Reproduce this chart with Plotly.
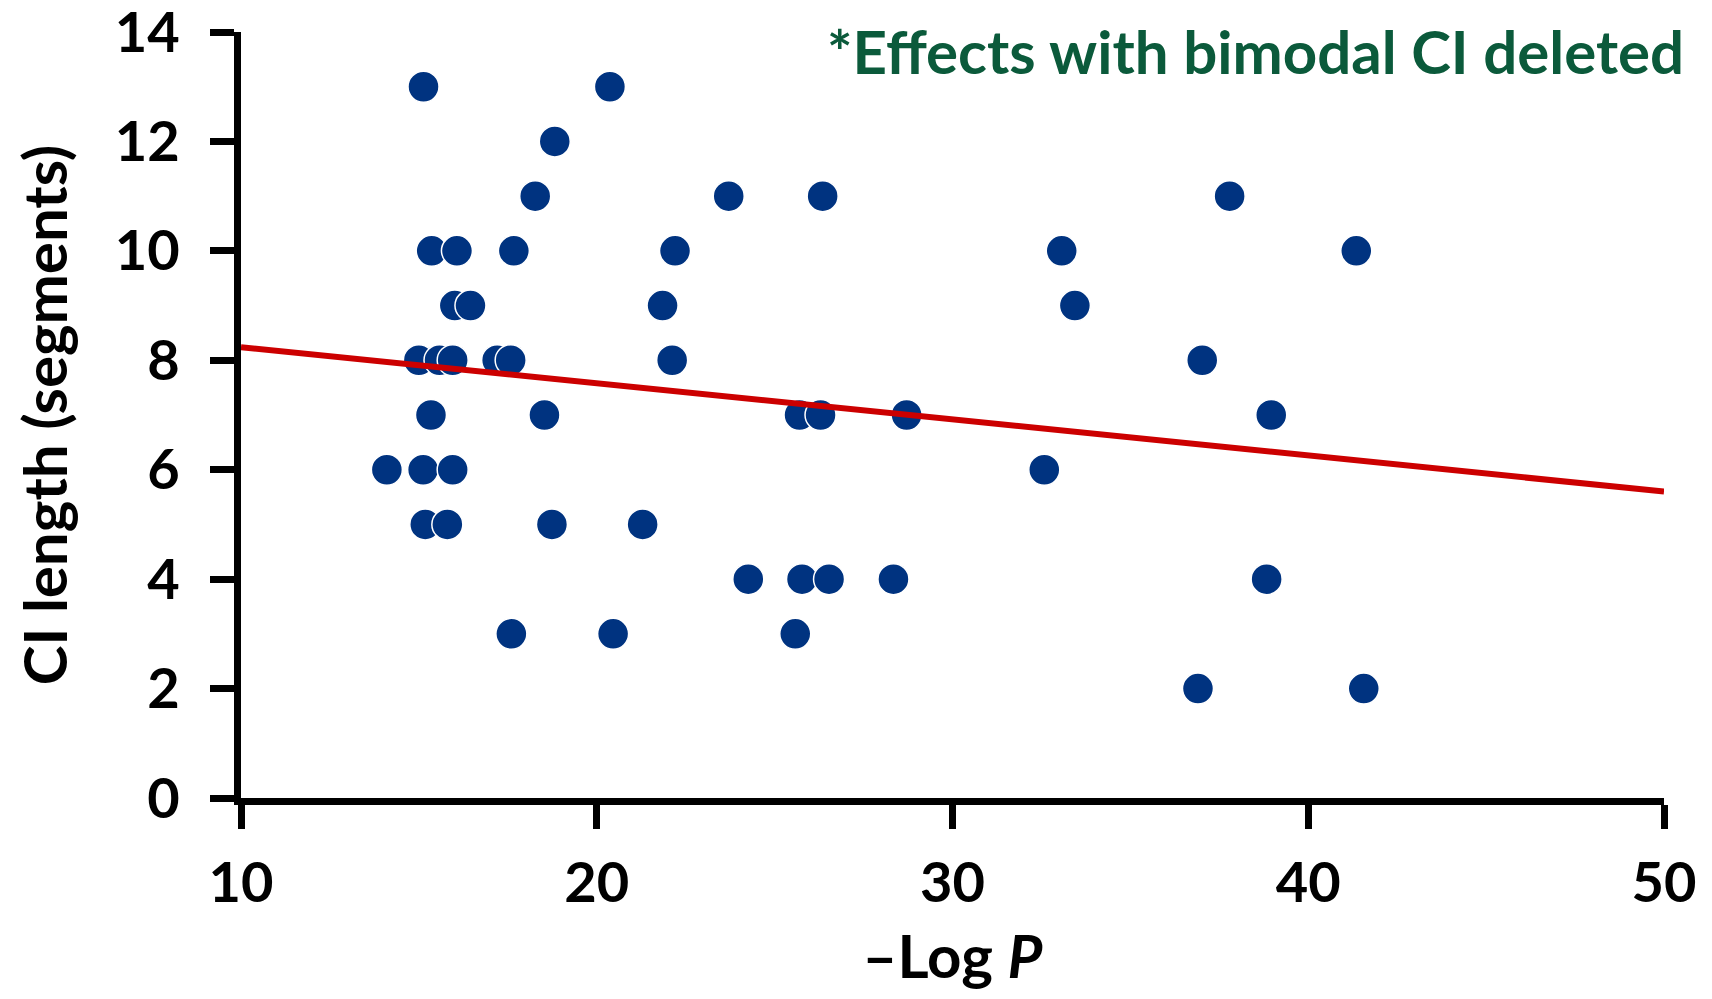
import plotly.graph_objects as go

# -Log P values and CI lengths
neg_log_p = [15.13, 20.37, 18.82, 18.27, 23.71, 26.35, 37.79,
             15.36, 16.07, 17.67, 22.20, 33.07, 41.35,
             16.01, 16.45, 21.85, 33.44,
             15.00, 15.58, 15.95, 17.20, 17.58, 22.12, 37.02,
             15.34, 18.53, 25.70, 26.29, 28.71, 38.96,
             14.10, 15.12, 15.95, 32.58,
             15.18, 15.80, 18.74, 21.29,
             24.26, 25.77, 26.53, 28.34, 38.83,
             17.60, 20.46, 25.58,
             36.90, 41.56]
ci_length = [13, 13, 12, 11, 11, 11, 11,
             10, 10, 10, 10, 10, 10,
             9, 9, 9, 9,
             8, 8, 8, 8, 8, 8, 8,
             7, 7, 7, 7, 7, 7,
             6, 6, 6, 6,
             5, 5, 5, 5,
             4, 4, 4, 4, 4,
             3, 3, 3,
             2, 2]

trend_x = [10, 50]
trend_y = [8.24, 5.60]

x_ticks = [10, 20, 30, 40, 50]
y_ticks = [0, 2, 4, 6, 8, 10, 12, 14]

FONT = "Lato"
TICK_SIZE = 56
TEXT_SIZE = 60

fig = go.Figure()
fig.add_trace(go.Scatter(
    x=neg_log_p, y=ci_length, mode="markers",
    marker=dict(size=31, color="#003380", line=dict(color="white", width=1.5)),
    showlegend=False, cliponaxis=False))
fig.add_trace(go.Scatter(
    x=trend_x, y=trend_y, mode="lines",
    line=dict(color="#CC0000", width=6), showlegend=False, cliponaxis=False))

fig.add_annotation(
    text="<b>*Effects with bimodal CI deleted</b>",
    xref="paper", yref="paper", x=1.0155, y=0.975,
    xanchor="right", yanchor="middle", showarrow=False,
    font=dict(family=FONT, size=TEXT_SIZE, color="#0B5A3B"))

axis_common = dict(
    showgrid=False, zeroline=False, showline=True, linecolor="black", linewidth=7,
    ticks="outside", ticklen=24, tickwidth=7, tickcolor="black",
    tickfont=dict(family=FONT, size=TICK_SIZE, color="black", weight="bold"),
    automargin=False, ticklabeloverflow="allow",
)
fig.update_xaxes(range=[10, 50], tickvals=x_ticks, ticktext=[str(v) for v in x_ticks],
                 ticklabelstandoff=6,
                 title=dict(text="<b>–Log <i>P</i></b>", font=dict(family=FONT, size=TEXT_SIZE, color="black"), standoff=55),
                 **axis_common)
fig.update_yaxes(range=[0, 14.0001], tickvals=y_ticks, ticktext=[str(v) for v in y_ticks],
                 ticklabelstandoff=19,
                 title=dict(text="<b>CI length (segments)</b>", font=dict(family=FONT, size=TEXT_SIZE, color="black"), standoff=49),
                 **axis_common)

# page body has an 8px margin, so the figure is 16px smaller than the window
fig.update_layout(
    width=1696, height=983,
    margin=dict(l=233, r=40, t=24, b=193),
    paper_bgcolor="white", plot_bgcolor="white",
    font=dict(family=FONT),
)
fig.write_html("out.html")
